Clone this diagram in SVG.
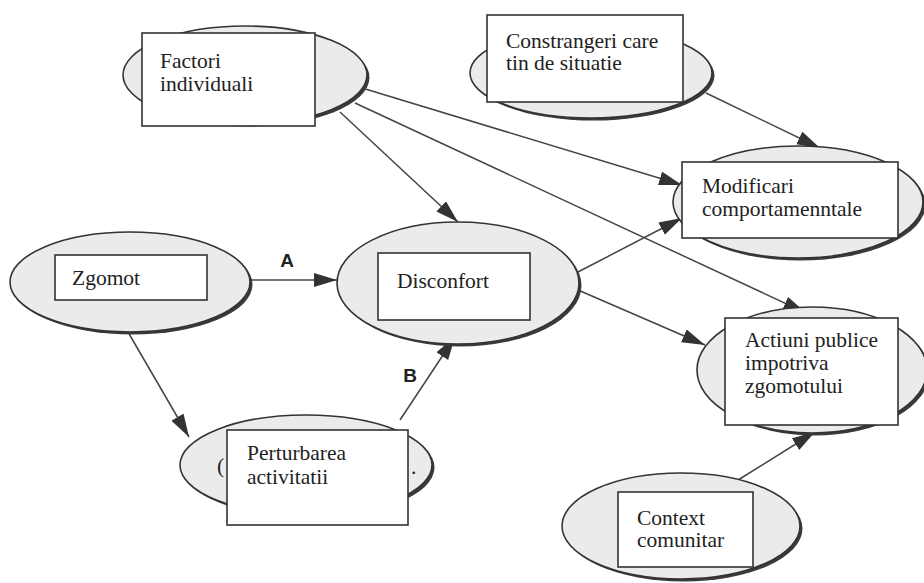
<svg xmlns="http://www.w3.org/2000/svg" width="924" height="583" viewBox="0 0 924 583">
<style>
.sh{fill:#3a3a3a;stroke:none}
.el{fill:#ebebeb;stroke:#333;stroke-width:1.6}
.bx{fill:#fff;stroke:#333;stroke-width:1.6}
.t{font-family:"Liberation Serif","Times New Roman",serif;font-size:21.5px;fill:#222}
.lb{font-family:"Liberation Sans",Arial,sans-serif;font-size:19px;font-weight:bold;fill:#222}
.c{fill:none;stroke:#444;stroke-width:1.5;marker-end:url(#ah)}
</style>
<defs>
<marker id="ah" markerUnits="userSpaceOnUse" markerWidth="26" markerHeight="16" refX="23" refY="7" orient="auto">
<path d="M0,0 L23,7 L0,14 Z" fill="#333"/>
</marker>
</defs>
<rect width="924" height="583" fill="#fff"/>
<g id="connectors">
<path class="c" d="M340,112 L458,222"/>
<path class="c" d="M362,88 L682,185"/>
<path class="c" d="M355,103 L806,313"/>
<path class="c" d="M706,93 L820,148"/>
<path class="c" d="M250,280 L337,280"/>
<path class="c" d="M128,332 L189,437"/>
<path class="c" d="M400,420 L455,337"/>
<path class="c" d="M578,272 L682,218"/>
<path class="c" d="M578,290 L705,345"/>
<path class="c" d="M738,480 L815,432"/>
<text class="lb" x="287" y="267" text-anchor="middle">A</text>
<text class="lb" x="410" y="382" text-anchor="middle">B</text>
</g>
<g id="factori">
<ellipse class="sh" cx="247.5" cy="77.5" rx="122" ry="49"/>
<ellipse class="el" cx="245" cy="75" rx="122" ry="49"/>
<rect class="bx" x="142" y="33" width="173" height="93"/>
<text class="t" x="160" y="68">Factori</text>
<text class="t" x="160" y="91">individuali</text>
</g>
<g id="constrangeri">
<ellipse class="sh" cx="593.5" cy="75.5" rx="121" ry="45"/>
<ellipse class="el" cx="591" cy="73" rx="121" ry="45"/>
<rect class="bx" x="487" y="15" width="196" height="87"/>
<text class="t" x="506" y="48">Constrangeri care</text>
<text class="t" x="506" y="70">tin de situatie</text>
</g>
<g id="modificari">
<ellipse class="sh" cx="800.5" cy="204.5" rx="125" ry="56"/>
<ellipse class="el" cx="798" cy="202" rx="125" ry="56"/>
<rect class="bx" x="682" y="162" width="216" height="76"/>
<text class="t" x="702" y="193">Modificari</text>
<text class="t" x="702" y="216">comportamenntale</text>
</g>
<g id="zgomot">
<ellipse class="sh" cx="132.5" cy="284.5" rx="120" ry="50"/>
<ellipse class="el" cx="130" cy="282" rx="120" ry="50"/>
<rect class="bx" x="55" y="255" width="152" height="45"/>
<text class="t" x="72" y="285">Zgomot</text>
</g>
<g id="disconfort">
<ellipse class="sh" cx="460.5" cy="285.5" rx="121" ry="61"/>
<ellipse class="el" cx="458" cy="283" rx="121" ry="61"/>
<rect class="bx" x="378" y="253" width="152" height="67"/>
<text class="t" x="397" y="288">Disconfort</text>
</g>
<g id="actiuni">
<ellipse class="sh" cx="814.5" cy="372.5" rx="115" ry="63"/>
<ellipse class="el" cx="812" cy="370" rx="115" ry="63"/>
<rect class="bx" x="725" y="318" width="173" height="107"/>
<text class="t" x="745" y="347">Actiuni publice</text>
<text class="t" x="745" y="370">impotriva</text>
<text class="t" x="745" y="393">zgomotului</text>
</g>
<g id="perturbarea">
<ellipse class="sh" cx="308.5" cy="467.5" rx="126" ry="50"/>
<ellipse class="el" cx="306" cy="465" rx="126" ry="50"/>
<text class="t" x="217" y="473">(</text>
<text class="t" x="411" y="474">.</text>
<rect class="bx" x="227" y="430" width="181" height="95"/>
<text class="t" x="247" y="460">Perturbarea</text>
<text class="t" x="247" y="484">activitatii</text>
</g>
<g id="context">
<ellipse class="sh" cx="683.5" cy="528.5" rx="119" ry="53"/>
<ellipse class="el" cx="681" cy="526" rx="119" ry="53"/>
<rect class="bx" x="618" y="492" width="135" height="75"/>
<text class="t" x="637" y="525">Context</text>
<text class="t" x="637" y="547">comunitar</text>
</g>
</svg>
